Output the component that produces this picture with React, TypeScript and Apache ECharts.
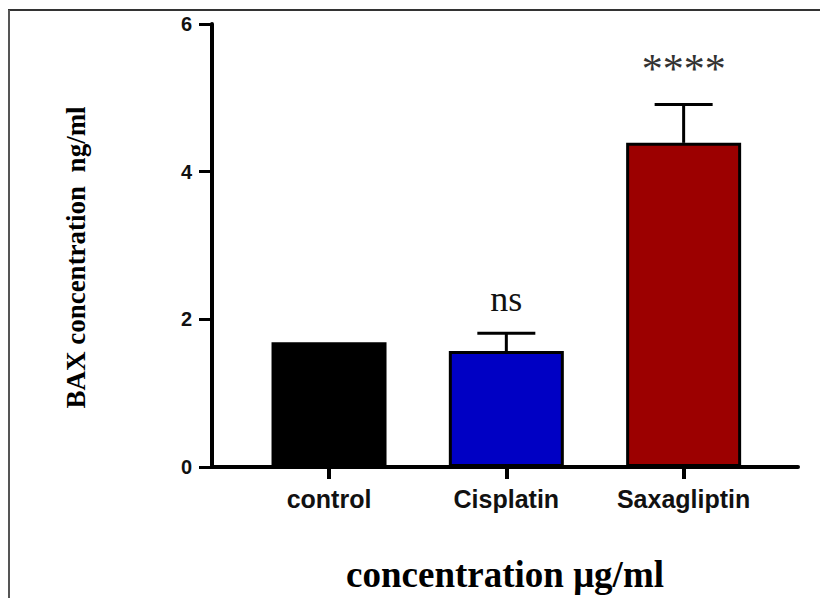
import React, { useEffect, useRef } from "react";
import * as echarts from "echarts";

const categories = ["control", "Cisplatin", "Saxagliptin"];
const means = [1.69, 1.57, 4.39];
const errors = [0, 0.24, 0.52];
const annotations = ["", "ns", "****"];
const barColors = ["#000000", "#0000C4", "#9C0000"];
const yTicks = [0, 2, 4, 6];

export default function App() {
  const ref = useRef<HTMLDivElement>(null);
  useEffect(() => {
    if (!ref.current) return;
    const chart = echarts.init(ref.current, null, { renderer: "svg" });
    const positions = categories.map((_, i) => i);
    chart.setOption({
      animation: false,
      backgroundColor: "#ffffff",
      grid: { left: 212, right: 22, top: 24, bottom: 131, outerBoundsMode: "none", containLabel: false },
      xAxis: {
        type: "value",
        min: -0.66,
        max: 2.645,
        splitLine: { show: false },
        axisLine: { show: true, onZero: false, lineStyle: { color: "#000", width: 4 } },
        axisTick: {
          show: true,
          customValues: positions,
          length: 12,
          lineStyle: { color: "#000", width: 4 },
        },
        axisLabel: {
          customValues: positions,
          margin: 19,
          color: "#111",
          fontFamily: "Liberation Sans, Arial, sans-serif",
          fontWeight: "bold",
          fontSize: 25,
          formatter: (v: number) => categories[Math.round(v)] ?? "",
        },
        name: "concentration μg/ml",
        nameLocation: "middle",
        nameGap: 89,
        nameTextStyle: {
          color: "#000",
          fontFamily: "Liberation Serif, Times New Roman, serif",
          fontWeight: "bold",
          fontSize: 37,
        },
      },
      yAxis: {
        type: "value",
        min: 0,
        max: 6,
        interval: 2,
        splitLine: { show: false },
        axisLine: { show: true, onZero: false, lineStyle: { color: "#000", width: 4 } },
        axisTick: { show: true, length: 13, lineStyle: { color: "#000", width: 3 } },
        axisLabel: {
          margin: 20,
          color: "#111",
          fontFamily: "Liberation Sans, Arial, sans-serif",
          fontWeight: "bold",
          fontSize: 20,
          formatter: (v: number) => (yTicks.includes(v) ? String(v) : ""),
        },
        name: "BAX concentration  ng/ml",
        nameLocation: "middle",
        nameGap: 123,
        nameTextStyle: {
          color: "#000",
          fontFamily: "Liberation Serif, Times New Roman, serif",
          fontWeight: "bold",
          fontSize: 27,
          padding: [0, 24, 0, 0],
        },
      },
      series: [
        {
          type: "bar",
          barWidth: 115,
          data: means.map((m, i) => ({
            value: [i, m],
            itemStyle: {
              color: barColors[i],
              borderColor: "#000",
              borderWidth: 3,
            },
          })),
          z: 2,
        },
        {
          type: "custom",
          z: 3,
          data: means.map((m, i) => [i, m, errors[i]]),
          renderItem: (params: any, api: any) => {
            const x = api.value(0);
            const m = api.value(1);
            const e = api.value(2);
            const i = params.dataIndex;
            const base = api.coord([x, m]);
            const top = api.coord([x, m + e]);
            const children: any[] = [];
            if (e > 0) {
              children.push({
                type: "line",
                shape: { x1: base[0], y1: base[1], x2: top[0], y2: top[1] },
                style: { stroke: "#000", lineWidth: 3 },
              });
              children.push({
                type: "line",
                shape: { x1: top[0] - 29, y1: top[1], x2: top[0] + 29, y2: top[1] },
                style: { stroke: "#000", lineWidth: 3 },
              });
            }
            const ann = annotations[i];
            if (ann) {
              const big = ann !== "ns";
              children.push({
                type: "text",
                style: {
                  text: ann,
                  x: top[0],
                  y: top[1] - (big ? 14 : 16),
                  align: "center",
                  verticalAlign: "bottom",
                  fill: big ? "#333" : "#111",
                  font: (big ? "42px" : "36px") + " 'Liberation Serif', 'Times New Roman', serif",
                },
              });
            }
            return { type: "group", children };
          },
        },
      ],
      graphic: [
        {
          type: "line",
          shape: { x1: 8, y1: 10, x2: 820, y2: 10 },
          style: { stroke: "#333", lineWidth: 2 },
        },
        {
          type: "line",
          shape: { x1: 9, y1: 10, x2: 9, y2: 598 },
          style: { stroke: "#555", lineWidth: 2 },
        },
      ],
    });
    return () => chart.dispose();
  }, []);
  return <div ref={ref} style={{ width: 820, height: 598, position: "fixed", left: 0, top: 0 }} />;
}
